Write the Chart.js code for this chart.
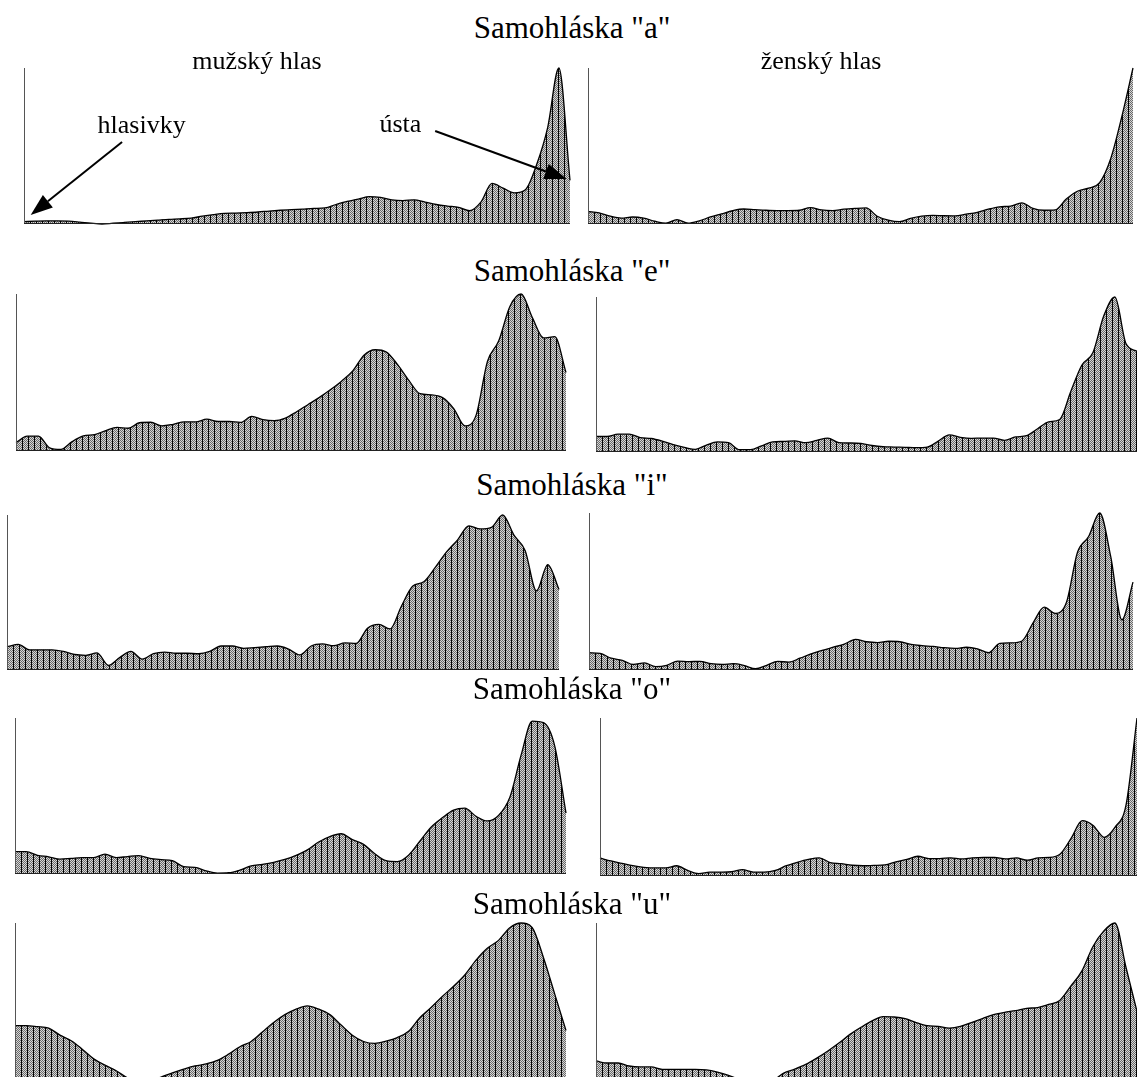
<!DOCTYPE html>
<html>
<head>
<meta charset="utf-8">
<title>Samohlásky</title>
<script src="https://cdn.jsdelivr.net/npm/chart.js@4.4.1/dist/chart.umd.min.js"></script>
<style>
    html, body { margin: 0; padding: 0; width: 1137px; height: 1077px; overflow: hidden; background: #fff; }
    .txt { position: absolute; font-family: "Liberation Serif", "Times New Roman", serif; color: #000; white-space: nowrap; line-height: 1; transform: translateX(-50%); }
    canvas { position: absolute; }
</style>
</head>
<body>
<script>
// 50 vzorků podél hlasového traktu (hlasivky -> ústa), hodnoty v % maxima
const bins = Array.from({length: 50}, (_, i) => i);

const vowels = ['a', 'e', 'i', 'o', 'u'];
const voices = ['mužský hlas', 'ženský hlas'];

const aMale   = [1.5,1.8,2,2,1.8,1.2,0.5,0,0.5,1,1.5,2,2.5,3,3.3,3.8,5,6,6.8,7,7.3,7.7,8.3,8.8,9.2,9.6,10,10.3,12.5,14.5,16,17.5,17,15.5,15,15.5,14,12.5,11.5,10.7,8.5,14,26,23,20,22,38,62,100,28];
const aFemale = [8,7.2,5,3.8,4.5,3.8,1.8,0.5,2.8,0.5,2,4.5,6.5,8.5,9.6,9.2,8.8,8.6,8.6,8.8,10.5,9,8.6,9.5,10,10.3,5,2.5,1.5,3.6,5,5.5,5.3,5.2,6.3,7.5,9.5,11,11.5,13.5,10,8.8,9,16,21,23,26.5,42,69,100];
const eMale   = [5.4,9.5,9.5,2,1,6,9.6,10.5,13,15,14.5,18,18.3,16,17,18.6,18.5,20.3,18.8,18.8,18.2,22,20,19.3,21,25,29.5,34,39,44.5,51,61,64.5,63,55,45,36.5,35.8,34,27,16,23,57,70,92,100,85,72,72.8,50];
const eFemale = [10,10,11.5,11.5,9.3,8.7,7,4.8,3,1.7,4.5,6.5,6,1.5,1.5,4,6.5,6.8,7.2,6,7.5,9,6,5.8,5.5,4.2,3.4,3.2,3,2.8,3.2,7,11,9.5,8.8,9,9,7.5,9.7,10.5,15,19.5,21,39,56,64,88,100,70,65];
const iMale   = [15,16.5,13,13,13,12,10,9.5,11,3,8,12,7,10.5,11.5,10.8,10.8,10.5,12,15.5,15.5,14,14.5,15,15.5,13.5,9.7,15.5,16.8,15.7,17.5,17.2,27,29.5,26.5,41,54,57,66,76,84,93,91,92,100,87,77,51,68,52];
const iFemale = [11,10.6,7.5,6.2,3.5,4.5,2.2,3,5.7,5.3,5.5,4,3.5,4,2.8,0.8,3,5.5,5,7.5,10.3,12.5,14.5,16.5,19.5,18,17.5,18.3,18,16.3,15.5,15,14.2,13.8,14.5,13.5,11,17,17.3,18.5,30,40,36,43,75,85,100,72,32,56];
const oMale   = [14.3,14.3,12,11,9.5,10,10.5,10.5,12.7,10.5,11.2,11.8,10,9.2,8.5,4.7,4.2,2,0.6,0.8,2.5,5.2,6.2,7.5,9.3,12,15.5,20.5,24,25.8,22,19,13,8.5,7.9,12,21,30,36,41,42.2,37,34,37.5,49,76,98,97,82,39];
const oFemale = [11.4,9.5,8,6.5,5.5,5.1,5.1,6.5,3.5,1.5,2.4,2.5,2.7,4,2.5,2.5,3.5,6.5,8.7,10.5,11.5,8.5,7.8,6.8,6.5,6.7,7,9,10.5,12.5,11,11,11.5,10.8,11.5,11.7,11.7,10.8,11.5,10,11.5,11.7,14,24,35,32,24.5,31,45,100];
const uMale   = [35,35,34.4,33.5,29,25.5,20,14,10,6.5,2,0,0,2.5,5.2,7.5,9.5,10.8,13,17,21.7,25,31,37,42,45.5,47.5,45.5,42,35.4,29,25,23.8,25.2,27.5,31.5,40,46.5,53.5,60,67.2,76.5,84,89,97,100,97,78,55,32];
const uFemale = [12.7,11.4,11.4,9.5,8.9,8.9,7.4,7.4,7.4,7.4,7,5.6,3.6,1,0,0,0.5,5,7.5,10.5,14.5,19,24,29.5,34,38,40.7,40.5,39.5,37,35,34.5,33.5,34.5,37,39.5,42,43.5,44.5,46,46.5,48.5,51,60,69.5,85,95,100,72,44];

// popisky se šipkami v prvním grafu (souřadnice v datech: [vzorek, %])
const notes = [
    {label: 'hlasivky', at: [6.6, 58.3], from: [8.8, 52.6], to: [0.6, 5.8]},
    {label: 'ústa', at: [31.9, 59], from: [36.9, 59.6], to: [48.7, 28.8]}
];

// rozmístění grafů na stránce [left, top, right, bottom]
const panels = [
    {values: aMale,   rect: [24, 68, 570, 224], notes: true},
    {values: aFemale, rect: [588, 68, 1133, 224]},
    {values: eMale,   rect: [16, 294, 566, 451]},
    {values: eFemale, rect: [596, 297, 1137, 452]},
    {values: iMale,   rect: [7, 515, 559, 670]},
    {values: iFemale, rect: [589, 513, 1133, 670]},
    {values: oMale,   rect: [15, 718, 566, 874]},
    {values: oFemale, rect: [600, 718, 1137, 876]},
    {values: uMale,   rect: [15, 923, 566, 1081]},
    {values: uFemale, rect: [596, 923, 1137, 1081]}
];
const titleBaselines = [38, 281, 495, 699, 914];

function addText(text, cx, baseline, size) {
    const d = document.createElement('div');
    d.className = 'txt';
    d.textContent = text;
    d.style.fontSize = size + 'px';
    d.style.left = cx + 'px';
    d.style.top = (baseline - 0.8375 * size) + 'px';
    document.body.appendChild(d);
}

// šrafování – svislé čáry a šedý rastr
function makeHatch() {
    const c = document.createElement('canvas');
    c.width = 6; c.height = 2;
    const g = c.getContext('2d');
    g.fillStyle = '#d6d6d6';
    g.fillRect(0, 0, 6, 2);
    g.fillStyle = '#6a6a6a';
    for (let x = 1; x < 6; x++) {
        for (let y = 0; y < 2; y++) {
            if ((x + y) % 2 === 0) g.fillRect(x, y, 1, 1);
        }
    }
    g.fillStyle = '#000';
    g.fillRect(0, 0, 1, 2);
    return g.createPattern(c, 'repeat');
}
const hatch = makeHatch();

const axisLine = {
    id: 'axisLine',
    afterDatasetsDraw(chart) {
        const {ctx, chartArea} = chart;
        ctx.save();
        ctx.strokeStyle = '#555';
        ctx.lineWidth = 1;
        ctx.beginPath();
        ctx.moveTo(Math.round(chartArea.left) + 0.5, chartArea.top);
        ctx.lineTo(Math.round(chartArea.left) + 0.5, chartArea.bottom);
        ctx.stroke();
        ctx.strokeStyle = '#222';
        ctx.beginPath();
        ctx.moveTo(chartArea.left, Math.round(chartArea.bottom) - 0.5);
        ctx.lineTo(chartArea.right, Math.round(chartArea.bottom) - 0.5);
        ctx.stroke();
        ctx.restore();
    }
};

const voiceNotes = {
    id: 'voiceNotes',
    afterDraw(chart) {
        const {ctx, scales: {x, y}} = chart;
        const px = p => [x.getPixelForValue(p[0]), y.getPixelForValue(p[1])];
        ctx.save();
        ctx.fillStyle = '#000';
        ctx.strokeStyle = '#000';
        ctx.font = '26px "Liberation Serif", "Times New Roman", serif';
        ctx.textBaseline = 'alphabetic';
        notes.forEach(n => {
            const [tx, ty] = px(n.at);
            ctx.fillText(n.label, tx, ty);
            const [x1, y1] = px(n.from);
            const [x2, y2] = px(n.to);
            const ang = Math.atan2(y2 - y1, x2 - x1);
            const len = 22, half = 8;
            const bx = x2 - Math.cos(ang) * len, by = y2 - Math.sin(ang) * len;
            ctx.lineWidth = 2;
            ctx.beginPath();
            ctx.moveTo(x1, y1);
            ctx.lineTo(bx, by);
            ctx.stroke();
            ctx.beginPath();
            ctx.moveTo(x2, y2);
            ctx.lineTo(bx + Math.sin(ang) * half, by - Math.cos(ang) * half);
            ctx.lineTo(bx - Math.sin(ang) * half, by + Math.cos(ang) * half);
            ctx.closePath();
            ctx.fill();
        });
        ctx.restore();
    }
};

function drawPanel(p) {
    const pad = 6;
    const [l, t, r, b] = p.rect;
    const cv = document.createElement('canvas');
    cv.width = r - l + 2 * pad;
    cv.height = b - t + 2 * pad;
    cv.style.left = (l - pad) + 'px';
    cv.style.top = (t - pad) + 'px';
    document.body.appendChild(cv);

    new Chart(cv, {
        type: 'line',
        data: {
            labels: bins,
            datasets: [{
                data: p.values,
                borderColor: '#000',
                borderWidth: 1.3,
                backgroundColor: hatch,
                fill: 'origin',
                pointRadius: 0,
                tension: 0.3,
                cubicInterpolationMode: 'monotone',
                clip: false
            }]
        },
        options: {
            responsive: false,
            animation: false,
            events: [],
            layout: { padding: pad },
            plugins: {
                legend: { display: false },
                tooltip: { enabled: false }
            },
            scales: {
                x: { display: false },
                y: { display: false, min: 0, max: 100 }
            }
        },
        plugins: p.notes ? [axisLine, voiceNotes] : [axisLine]
    });
}

panels.forEach(drawPanel);

vowels.forEach((v, i) => addText('Samohláska "' + v + '"', 572, titleBaselines[i], 31));
addText(voices[0], 257, 70, 26);
addText(voices[1], 821, 70, 26);
</script>
</body>
</html>
